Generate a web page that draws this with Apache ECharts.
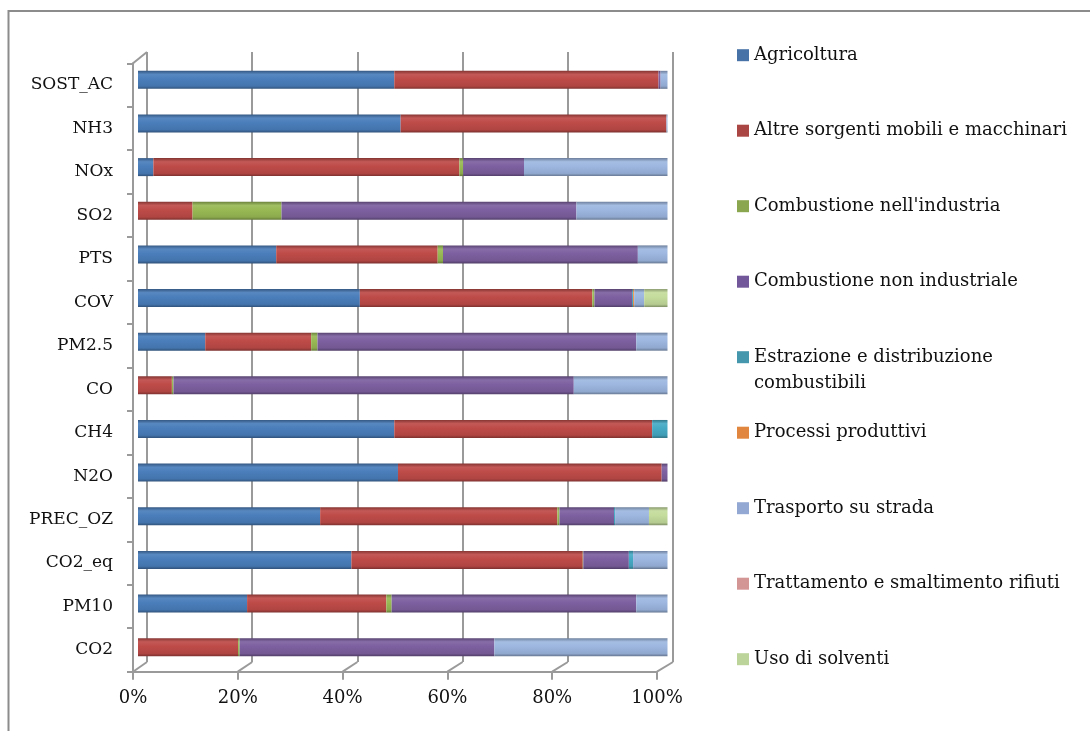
<!DOCTYPE html>
<html>
<head>
<meta charset="utf-8">
<script src="https://cdn.jsdelivr.net/npm/echarts@6.0.0/dist/echarts.min.js"></script>
<style>
  html, body { margin: 0; padding: 0; background: #fff; }
  #chart { width: 1090px; height: 731px; }
</style>
</head>
<body>
<div id="chart"></div>
<script>
// categories, bottom to top (category axis starts at the bottom)
const categories = ['CO2', 'PM10', 'CO2_eq', 'PREC_OZ', 'N2O', 'CH4', 'CO', 'PM2.5', 'COV', 'PTS', 'SO2', 'NOx', 'NH3', 'SOST_AC']

const sectors = ['Agricoltura', 'Altre sorgenti mobili e macchinari', 'Combustione nell\'industria',
  'Combustione non industriale', 'Estrazione e distribuzione combustibili', 'Processi produttivi',
  'Trasporto su strada', 'Trattamento e smaltimento rifiuti', 'Uso di solventi']

// percent shares, one array per sector
const agricoltura   = [0, 20.6, 40.3, 34.4, 49.1, 48.4, 0, 12.7, 41.9, 26.1, 0, 2.9, 49.6, 48.4]
const altreSorgenti = [18.9, 26.3, 43.7, 44.8, 49.8, 48.7, 6.4, 20.0, 43.9, 30.5, 10.3, 57.8, 50.2, 49.9]
const combInd       = [0.3, 1.0, 0.1, 0.4, 0, 0, 0.3, 1.2, 0.4, 1.0, 16.8, 0.7, 0, 0]
const combNonInd    = [48.1, 46.2, 8.6, 10.3, 1.1, 0, 75.6, 60.2, 7.1, 36.8, 55.7, 11.5, 0, 0.4]
const estrazione    = [0, 0, 0.8, 0.2, 0, 2.9, 0, 0, 0.2, 0, 0, 0, 0, 0]
const processi      = [0, 0, 0, 0, 0, 0, 0, 0, 0.2, 0, 0, 0, 0, 0]
const trasporto     = [32.7, 5.9, 6.5, 6.4, 0, 0, 17.7, 5.9, 1.9, 5.6, 17.2, 27.1, 0.2, 1.3]
const trattamento   = [0, 0, 0, 0, 0, 0, 0, 0, 0, 0, 0, 0, 0, 0]
const solventi      = [0, 0, 0, 3.5, 0, 0, 0, 0, 4.4, 0, 0, 0, 0, 0]

const values = [agricoltura, altreSorgenti, combInd, combNonInd, estrazione, processi, trasporto, trattamento, solventi]

const xTicks = [0, 20, 40, 60, 80, 100]

const barColors = ['#4a7ebb', '#be4b48', '#98b954', '#7d60a0', '#46aac5', '#f69240', '#9db7e0', '#d99795', '#c4dc9c']
const legendColors = ['#4672a8', '#aa4744', '#8aa64e', '#72589a', '#4497ad', '#e0863e', '#93a9d4', '#d49595', '#bcd39a']

const FONT = '"DejaVu Serif", "Liberation Serif", serif'
const GRAY = '#9a9a9a'

// front plane (axes), back wall (gridlines), bars in between
const front = { l: 133, r: 657, t: 63.3, b: 671.7 }
const back = { l: 147, r: 673, t: 52, b: 662 }
const bars = { l: 138, r: 667.5, t: 58, b: 669 }

function shade(hex, amt) {
    let n = parseInt(hex.slice(1), 16)
    let r = n >> 16, g = (n >> 8) & 255, b = n & 255
    const f = c => Math.max(0, Math.min(255, Math.round(amt < 0 ? c * (1 + amt) : c + (255 - c) * amt)))
    return 'rgb(' + f(r) + ',' + f(g) + ',' + f(b) + ')'
}

// fake cylinder shading
function cyl(c) {
    return new echarts.graphic.LinearGradient(0, 0, 0, 1, [
        { offset: 0, color: shade(c, -0.3) },
        { offset: 0.2, color: shade(c, 0.08) },
        { offset: 0.45, color: c },
        { offset: 0.85, color: shade(c, -0.08) },
        { offset: 1, color: shade(c, -0.35) }
    ])
}

const chart = echarts.init(document.getElementById('chart'))

const series = sectors.map((name, i) => ({
    name: name,
    type: 'bar',
    stack: 'tot',
    xAxisIndex: 1,
    yAxisIndex: 1,
    barWidth: 18,
    data: values[i],
    itemStyle: { color: cyl(barColors[i]) },
    emphasis: { disabled: true }
}))

// one legend per entry so the spacing matches (Estrazione wraps on two lines)
const legendCenters = [55.2, 130.7, 206.2, 281.7, 357.2, 432.7, 508.2, 583.7, 659.2]
const legends = sectors.map((name, i) => {
    const wrap = name.indexOf('Estrazione') == 0
    return {
        data: [{ name: name, itemStyle: { color: legendColors[i] } }],
        left: 737,
        top: legendCenters[i] - (wrap ? 39 : 13),
        padding: 0,
        itemWidth: 12,
        itemHeight: 12,
        icon: 'rect',
        formatter: n => wrap ? ' \nEstrazione e distribuzione\ncombustibili' : n,
        textStyle: { fontFamily: FONT, fontSize: 18, color: '#111', lineHeight: 26 }
    }
})

// frame decorations: outer border and the 3D corner / floor diagonals
const lineStyle = { stroke: GRAY, lineWidth: 2 }
const graphics = [
    { type: 'line', shape: { x1: 8, y1: 11, x2: 1090, y2: 11 }, style: { stroke: '#8c8c8c', lineWidth: 2 } },
    { type: 'line', shape: { x1: 8.5, y1: 10, x2: 8.5, y2: 731 }, style: { stroke: '#8c8c8c', lineWidth: 2 } },
    { type: 'line', shape: { x1: front.l, y1: front.t, x2: back.l, y2: back.t }, style: lineStyle }
]
for (let k = 0; k < xTicks.length; k++) {
    const fx = front.l + (front.r - front.l) * k / (xTicks.length - 1)
    const bx = back.l + (back.r - back.l) * k / (xTicks.length - 1)
    graphics.push({ type: 'line', shape: { x1: fx, y1: front.b, x2: bx, y2: back.b }, style: lineStyle })
}

const option = {
    animation: false,
    backgroundColor: '#fff',
    grid: [
        { left: front.l, right: 1090 - front.r, top: front.t, bottom: 731 - front.b },
        { left: bars.l, right: 1090 - bars.r, top: bars.t, bottom: 731 - bars.b },
        { left: back.l, right: 1090 - back.r, top: back.t, bottom: 731 - back.b }
    ],
    xAxis: [
        {
            gridIndex: 0, type: 'value', min: 0, max: 100, interval: 20,
            axisLine: { show: true, lineStyle: { color: GRAY, width: 2 } },
            axisTick: { show: true, length: 8, lineStyle: { color: GRAY, width: 2 } },
            axisLabel: { formatter: '{value}%', margin: 18, fontFamily: FONT, fontSize: 18, color: '#111' },
            splitLine: { show: false }
        },
        { gridIndex: 1, type: 'value', min: 0, max: 100, show: false },
        {
            gridIndex: 2, type: 'value', min: 0, max: 100, interval: 20,
            axisLine: { show: false }, axisTick: { show: false }, axisLabel: { show: false },
            splitLine: { show: true, lineStyle: { color: GRAY, width: 2 } }
        }
    ],
    yAxis: [
        {
            gridIndex: 0, type: 'category', data: categories,
            axisLine: { show: true, lineStyle: { color: GRAY, width: 2 } },
            axisTick: { show: true, length: 6, lineStyle: { color: GRAY, width: 2 } },
            axisLabel: { margin: 20, fontFamily: FONT, fontSize: 17, color: '#111' },
            splitLine: { show: false }
        },
        { gridIndex: 1, type: 'category', data: categories, show: false },
        { gridIndex: 2, type: 'value', show: false, splitLine: { show: false } }
    ],
    legend: legends,
    graphic: graphics,
    series: series
}

chart.setOption(option)
</script>
</body>
</html>
